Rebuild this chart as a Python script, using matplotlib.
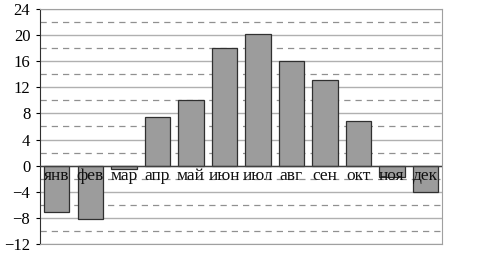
import numpy as np
import matplotlib.pyplot as plt

plt.rcParams['font.family'] = ['Liberation Serif', 'DejaVu Serif']

# Месяцы и значения (температура)
months = ['янв', 'фев', 'мар', 'апр', 'май', 'июн', 'июл', 'авг', 'сен', 'окт', 'ноя', 'дек']
temps = [-7.1, -8.1, -0.5, 7.4, 10, 18.1, 20.2, 16.1, 13.2, 6.9, -1.8, -4.1]
yticks = list(range(-12, 25, 4))

fig = plt.figure(figsize=(4.79, 2.69), dpi=100)
ax = fig.add_axes([0.0835, 0.093, 0.8395, 0.8735])

# Сетка: сплошные линии через 4, пунктир через 2
for y in range(-12, 25, 4):
    ax.axhline(y, color='#b0b0b0', lw=1.0, zorder=0)
for y in range(-10, 24, 4):
    ax.axhline(y, color='#909090', lw=0.9, ls=(0, (5, 4)), zorder=0)

x = np.arange(len(months))
ax.bar(x, temps, width=0.76, color='#9c9c9c', edgecolor='#303030', lw=0.9, zorder=2)

# Подписи месяцев под нулём
for i, m in enumerate(months):
    ax.text(i, -0.3, m, ha='center', va='top', fontsize=12.5, color='#101010', zorder=3)

ax.axhline(0, color='#404040', lw=1.0, zorder=3)

ax.set_xlim(-0.5, 11.5)
ax.set_ylim(-12, 24)
ax.set_yticks(yticks)
ax.set_yticklabels(['\u2212' + str(-t) if t < 0 else str(t) for t in yticks], fontsize=12)
ax.set_xticks([])
ax.tick_params(axis='y', length=3, width=0.8, pad=4)
ax.spines['left'].set_color('#303030')
for s in ['top', 'right', 'bottom']:
    ax.spines[s].set_color('#a0a0a0')

fig.savefig('out.png', dpi=100)
